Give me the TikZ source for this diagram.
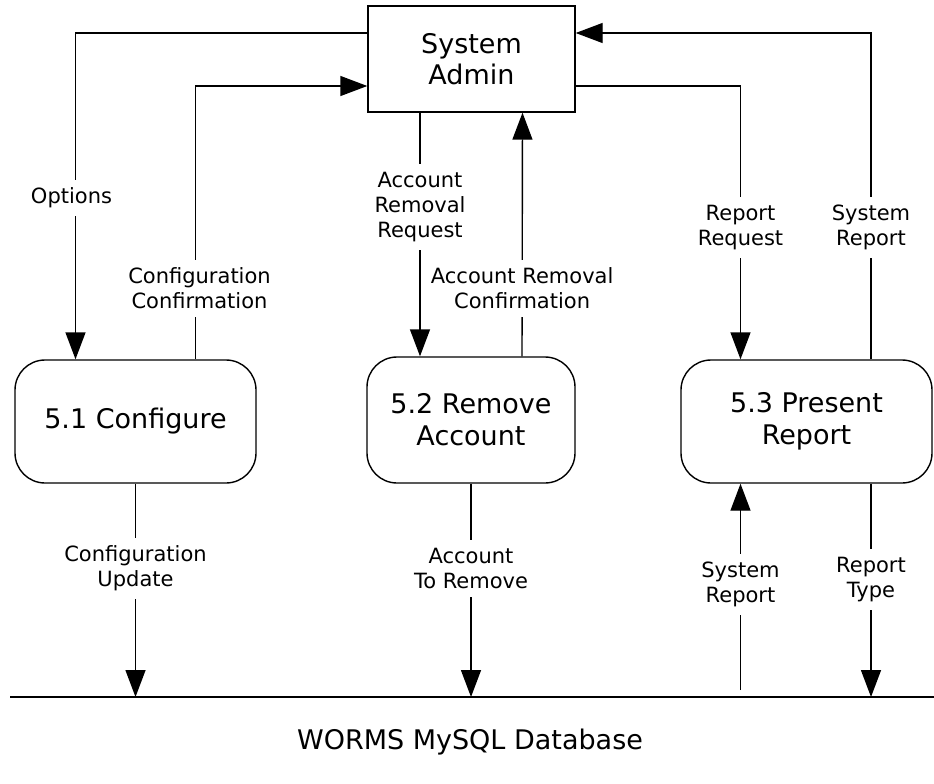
\documentclass[tikz,border=0pt]{standalone}
\usepackage{fontspec}
\setmainfont{DejaVu Sans}
\usetikzlibrary{arrows.meta}
\tikzset{
 ent/.style={draw,line width=1.4pt,minimum width=207pt,minimum height=106pt,align=center,font=\fontsize{27}{31}\selectfont},
 proc/.style={draw,line width=1.4pt,rounded corners=30pt,minimum height=123pt,align=center,font=\fontsize{27}{32}\selectfont},
 flow/.style={line width=1.4pt,-{Triangle[length=27pt,width=20pt]}},
 lbl/.style={fill=white,align=center,inner xsep=3pt,inner ysep=8pt,font=\fontsize{21}{25}\selectfont}
}
\begin{document}
\begin{tikzpicture}[x=1pt,y=-1pt]
 \useasboundingbox (0,0) rectangle (934,784);
 \node[ent] (admin) at (471.5,59) {System\\Admin};
 \node[proc,minimum width=241pt] (conf) at (135.5,421.5) {5.1 Configure};
 \node[proc,minimum width=208pt,minimum height=126pt] (rem) at (471,420) {5.2 Remove\\Account};
 \node[proc,minimum width=251pt] (pres) at (806.5,421.5) {5.3 Present\\Report};
 \coordinate (dbL) at (10,697);
 \coordinate (dbR) at (934,697);
 \draw[line width=1.4pt] (dbL) -- (dbR);
 \node[font=\fontsize{27}{31}\selectfont] (db) at (470,742) {WORMS MySQL Database};
 % admin <-> processes
 \draw[flow] ([yshift=26pt]admin.west) -| node[lbl,pos=0.753,xshift=-4pt] {Options} ([xshift=-60pt]conf.north);
 \draw[flow] ([xshift=60pt]conf.north) |- node[lbl,pos=0.13,xshift=4pt] {Configuration\\Confirmation} ([yshift=-27pt]admin.west);
 \draw[flow] ([xshift=-51.5pt]admin.south) -- node[lbl,pos=0.388] {Account\\Removal\\Request} ([xshift=-51pt]rem.north);
 \draw[flow] ([xshift=51pt]rem.north) -- node[lbl,pos=0.278] {Account Removal\\Confirmation} ([xshift=51pt]admin.south);
 \draw[flow] ([yshift=-27pt]admin.east) -| node[lbl,pos=0.759] {Report\\Request} ([xshift=-66pt]pres.north);
 \draw[flow] ([xshift=64.5pt]pres.north) |- node[lbl,pos=0.202] {System\\Report} ([yshift=26pt]admin.east);
 % processes <-> database
 \draw[flow] (conf.south) -- node[lbl,pos=0.397] {Configuration\\Update} (conf.south |- dbL);
 \draw[flow] (rem.south) -- node[lbl,pos=0.397] {Account\\To Remove} (rem.south |- dbL);
 \draw[flow] ([xshift=-66pt,yshift=7pt]pres.south |- dbL) -- node[lbl,pos=0.51] {System\\Report} ([xshift=-66pt]pres.south);
 \draw[flow] ([xshift=64.5pt]pres.south) -- node[lbl,pos=0.449] {Report\\Type} ([xshift=64.5pt]pres.south |- dbL);
\end{tikzpicture}
\end{document}
